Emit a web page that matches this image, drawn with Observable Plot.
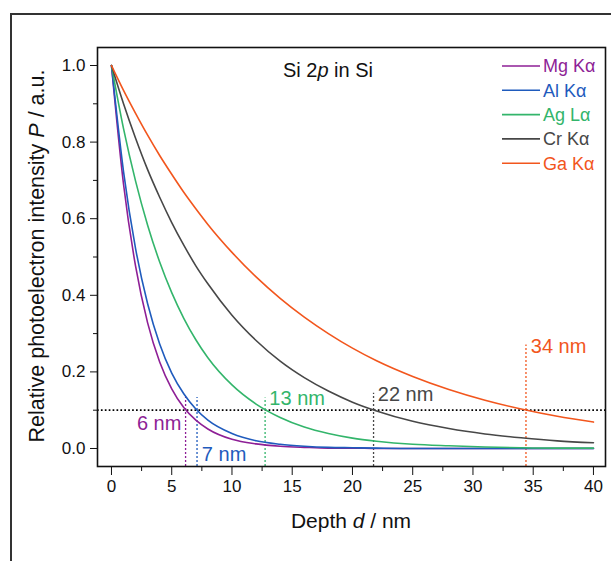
<!DOCTYPE html>
<html><head><meta charset="utf-8">
<script src="https://cdn.jsdelivr.net/npm/d3@7"></script>
<script src="https://cdn.jsdelivr.net/npm/@observablehq/plot@0.6"></script>
<style>
body{margin:0;background:#fff;font-family:"Liberation Sans",Arial,sans-serif;}
#wrap{position:relative;width:611px;height:561px;overflow:hidden;}
#border{position:absolute;left:10px;top:13px;width:700px;height:700px;border:2px solid #333;box-sizing:border-box;}
#chart{position:absolute;left:0;top:0;}
</style></head><body>
<div id="wrap"><div id="border"></div><div id="chart"></div></div>
<script>
// Depth samples (nm)
const depth = [0,1,2,3,4,5,6,7,8,10,12,14,16,18,20,22,25,28,31,34,37,40];
// Relative photoelectron intensity
const mgKa = [1,0.69,0.476,0.328,0.226,0.156,0.107,0.074,0.051,0.024,0.012,0.006,0.003,0.001,0.001,0,0,0,0,0,0,0];
const alKa = [1,0.723,0.522,0.378,0.273,0.197,0.143,0.103,0.074,0.039,0.020,0.011,0.006,0.003,0.002,0.001,0,0,0,0,0,0];
const agLa = [1,0.835,0.698,0.583,0.487,0.407,0.340,0.284,0.237,0.166,0.116,0.081,0.056,0.039,0.027,0.019,0.011,0.007,0.004,0.002,0.001,0.001];
const crKa = [1,0.900,0.810,0.728,0.656,0.590,0.531,0.477,0.430,0.348,0.282,0.228,0.185,0.150,0.121,0.098,0.071,0.052,0.038,0.028,0.020,0.015];
const gaKa = [1,0.935,0.875,0.818,0.765,0.716,0.669,0.626,0.585,0.512,0.448,0.392,0.343,0.300,0.262,0.229,0.188,0.154,0.126,0.103,0.084,0.069];

const seriesNames = ["Mg K\u03B1","Al K\u03B1","Ag L\u03B1","Cr K\u03B1","Ga K\u03B1"];
const seriesColors = ["#8e1f96","#1f5bbd","#33b56b","#474747","#f2561d"];
const seriesValues = [mgKa, alKa, agLa, crKa, gaKa];

// 10 % information depth markers
const cutDepth = [6.15, 7.1, 12.75, 21.75, 34.4];
const cutTop = [0.133, 0.133, 0.132, 0.144, 0.27];
const cutLabel = ["6 nm","7 nm","13 nm","22 nm","34 nm"];
const labelX = [5.8, 7.5, 13.1, 22.1, 34.8];
const labelY = [0.065, -0.016, 0.13, 0.141, 0.266];

const xTicks = [0,5,10,15,20,25,30,35,40];
const xMinor = [2.5,7.5,12.5,17.5,22.5,27.5,32.5,37.5];
const yTicks = [0,0.2,0.4,0.6,0.8,1.0];
const yMinor = [0.1,0.3,0.5,0.7,0.9];

const lines = [];
seriesNames.forEach((s,i)=>depth.forEach((d,j)=>lines.push({series:s, d, p:seriesValues[i][j]})));
const cuts = cutDepth.map((d,i)=>({series:seriesNames[i], d, top:cutTop[i], label:cutLabel[i], lx:labelX[i], ly:labelY[i]}));

const yMin = -0.047, yMax = 1.047;
const font = "Liberation Sans, Arial, sans-serif";

const plot = Plot.plot({
  width:611, height:561,
  marginLeft:97, marginRight:6, marginTop:47, marginBottom:95,
  style:{fontFamily:font, fontSize:"17px", background:"transparent", overflow:"visible", color:"#111"},
  x:{domain:[-1.16,41.0]},
  y:{domain:[yMin,yMax]},
  color:{domain:seriesNames, range:seriesColors},
  marks:[
    Plot.ruleY([0.1],{stroke:"#000", strokeWidth:1.7, strokeDasharray:"1.7,2.2"}),
    Plot.ruleX(cuts,{x:"d", y1:yMin, y2:"top", stroke:"series", strokeWidth:1.3, strokeDasharray:"2,2"}),
    Plot.line(lines,{x:"d", y:"p", z:"series", stroke:"series", curve:"monotone-x", strokeWidth:1.6}),
    Plot.text(cuts.filter(c=>c.label==="6 nm"),{x:"lx", y:"ly", text:"label", fill:"series", textAnchor:"end", fontSize:20}),
    Plot.text(cuts.filter(c=>c.label!=="6 nm"),{x:"lx", y:"ly", text:"label", fill:"series", textAnchor:"start", fontSize:20}),
    Plot.axisX({ticks:xTicks, tickSize:9, tickPadding:4, label:null, fontSize:17}),
    Plot.axisX({ticks:xMinor, tickSize:5, text:null, label:null}),
    Plot.axisY({ticks:yTicks, tickSize:7, tickPadding:5, tickFormat:d3.format(".1f"), label:null, fontSize:17}),
    Plot.axisY({ticks:yMinor, tickSize:4, text:null, label:null}),
    Plot.frame({stroke:"#111", strokeWidth:1.6})
  ]
});
document.getElementById("chart").appendChild(plot);

const svg = d3.select(plot);
// Title
const t = svg.append("text").attr("x",328).attr("y",77).attr("text-anchor","middle")
  .attr("font-family",font).attr("font-size",20).attr("fill","#111");
t.append("tspan").text("Si 2");
t.append("tspan").attr("font-style","italic").text("p");
t.append("tspan").text(" in Si");
// X label
const xl = svg.append("text").attr("x",351).attr("y",528).attr("text-anchor","middle")
  .attr("font-family",font).attr("font-size",21).attr("fill","#111");
xl.append("tspan").text("Depth ");
xl.append("tspan").attr("font-style","italic").text("d");
xl.append("tspan").text(" / nm");
// Y label
const yl = svg.append("text").attr("transform","translate(44,256) rotate(-90)").attr("text-anchor","middle")
  .attr("font-family",font).attr("font-size",21.5).attr("fill","#111");
yl.append("tspan").text("Relative photoelectron intensity ");
yl.append("tspan").attr("font-style","italic").text("P");
yl.append("tspan").text(" / a.u.");
// Legend
const lg = svg.append("g");
seriesNames.forEach((s,i)=>{
  const y = 66 + i*24.3;
  lg.append("line").attr("x1",502).attr("x2",540).attr("y1",y).attr("y2",y)
    .attr("stroke",seriesColors[i]).attr("stroke-width",1.6);
  lg.append("text").attr("x",543).attr("y",y).attr("dy","0.35em").attr("text-anchor","start")
    .attr("font-family",font).attr("font-size",18).attr("fill",seriesColors[i]).text(s);
});
</script></body></html>
